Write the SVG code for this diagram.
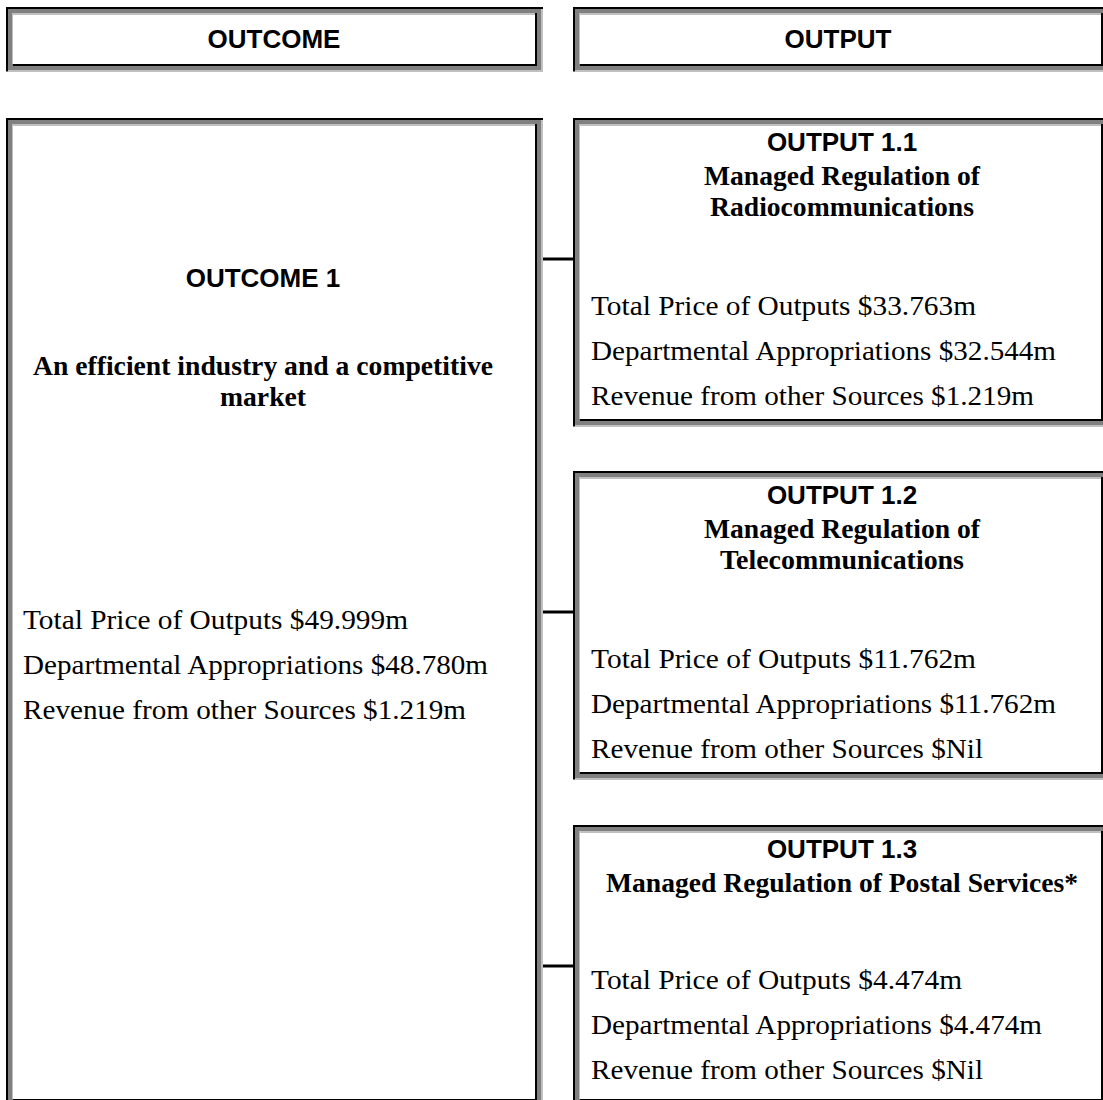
<svg xmlns="http://www.w3.org/2000/svg" width="1103" height="1100" viewBox="0 0 1103 1100">
<style>
.k{fill:#000}.d{fill:#808080}.l{fill:#c0c0c0}.w{fill:#fff}
.h{font-family:"Liberation Sans",Arial,sans-serif;font-weight:bold;font-size:26px;fill:#000;text-anchor:middle}
.t{font-family:"Liberation Serif","Times New Roman",serif;font-weight:bold;font-size:26.5px;fill:#000;text-anchor:middle}
.b{font-family:"Liberation Serif","Times New Roman",serif;font-size:27px;fill:#000}
.c{stroke:#000;stroke-width:3;fill:none}
</style>
<rect width="1103" height="1100" fill="#fff"/>
<g id="header-outcome">
<rect class="d" x="6" y="7" width="537" height="65"/>
<rect class="l" x="541" y="9" width="2" height="63"/>
<rect class="l" x="8" y="70" width="533" height="2"/>
<rect class="l" x="12" y="13" width="523" height="2"/>
<rect class="l" x="12" y="13" width="1" height="51"/>
<rect class="w" x="13" y="15" width="522" height="49"/>
<rect class="k" x="6" y="7" width="537" height="2"/>
<rect class="k" x="6" y="7" width="2" height="64"/>
<rect class="k" x="13" y="64" width="524" height="2"/>
<rect class="k" x="535" y="13" width="2" height="53"/>
<text class="h" x="274" y="48">OUTCOME</text>
</g>
<g id="header-output">
<rect class="d" x="573" y="7" width="536" height="65"/>
<rect class="l" x="575" y="70" width="532" height="2"/>
<rect class="l" x="579" y="13" width="522" height="2"/>
<rect class="l" x="579" y="13" width="1" height="51"/>
<rect class="w" x="580" y="15" width="521" height="49"/>
<rect class="k" x="573" y="7" width="536" height="2"/>
<rect class="k" x="573" y="7" width="2" height="64"/>
<rect class="k" x="580" y="64" width="523" height="2"/>
<rect class="k" x="1101" y="13" width="2" height="53"/>
<text class="h" x="838" y="48">OUTPUT</text>
</g>
<g id="outcome-1">
<rect class="d" x="6" y="118" width="537" height="989"/>
<rect class="l" x="541" y="120" width="2" height="987"/>
<rect class="l" x="12" y="124" width="523" height="2"/>
<rect class="l" x="12" y="124" width="1" height="975"/>
<rect class="w" x="13" y="126" width="522" height="973"/>
<rect class="k" x="6" y="118" width="537" height="2"/>
<rect class="k" x="6" y="118" width="2" height="988"/>
<rect class="k" x="13" y="1099" width="524" height="2"/>
<rect class="k" x="535" y="124" width="2" height="977"/>
<text class="h" x="263" y="287">OUTCOME 1</text>
<text class="t" x="263" y="375" textLength="460" lengthAdjust="spacingAndGlyphs">An efficient industry and a competitive</text>
<text class="t" x="263" y="406" textLength="86" lengthAdjust="spacingAndGlyphs">market</text>
<text class="b" x="23" y="629" textLength="385" lengthAdjust="spacingAndGlyphs">Total Price of Outputs $49.999m</text>
<text class="b" x="23" y="674" textLength="465" lengthAdjust="spacingAndGlyphs">Departmental Appropriations $48.780m</text>
<text class="b" x="23" y="719" textLength="443" lengthAdjust="spacingAndGlyphs">Revenue from other Sources $1.219m</text>
</g>
<g id="output-1-1">
<rect class="d" x="573" y="118" width="536" height="309"/>
<rect class="l" x="575" y="425" width="532" height="2"/>
<rect class="l" x="579" y="124" width="522" height="2"/>
<rect class="l" x="579" y="124" width="1" height="295"/>
<rect class="w" x="580" y="126" width="521" height="293"/>
<rect class="k" x="573" y="118" width="536" height="2"/>
<rect class="k" x="573" y="118" width="2" height="308"/>
<rect class="k" x="580" y="419" width="523" height="2"/>
<rect class="k" x="1101" y="124" width="2" height="297"/>
<text class="h" x="842" y="151">OUTPUT 1.1</text>
<text class="t" x="842" y="185" textLength="276" lengthAdjust="spacingAndGlyphs">Managed Regulation of</text>
<text class="t" x="842" y="216" textLength="264" lengthAdjust="spacingAndGlyphs">Radiocommunications</text>
<text class="b" x="591" y="315" textLength="385" lengthAdjust="spacingAndGlyphs">Total Price of Outputs $33.763m</text>
<text class="b" x="591" y="360" textLength="465" lengthAdjust="spacingAndGlyphs">Departmental Appropriations $32.544m</text>
<text class="b" x="591" y="405" textLength="443" lengthAdjust="spacingAndGlyphs">Revenue from other Sources $1.219m</text>
</g>
<g id="output-1-2">
<rect class="d" x="573" y="471" width="536" height="309"/>
<rect class="l" x="575" y="778" width="532" height="2"/>
<rect class="l" x="579" y="477" width="522" height="2"/>
<rect class="l" x="579" y="477" width="1" height="295"/>
<rect class="w" x="580" y="479" width="521" height="293"/>
<rect class="k" x="573" y="471" width="536" height="2"/>
<rect class="k" x="573" y="471" width="2" height="308"/>
<rect class="k" x="580" y="772" width="523" height="2"/>
<rect class="k" x="1101" y="477" width="2" height="297"/>
<text class="h" x="842" y="504">OUTPUT 1.2</text>
<text class="t" x="842" y="538" textLength="276" lengthAdjust="spacingAndGlyphs">Managed Regulation of</text>
<text class="t" x="842" y="569" textLength="244" lengthAdjust="spacingAndGlyphs">Telecommunications</text>
<text class="b" x="591" y="668" textLength="385" lengthAdjust="spacingAndGlyphs">Total Price of Outputs $11.762m</text>
<text class="b" x="591" y="713" textLength="465" lengthAdjust="spacingAndGlyphs">Departmental Appropriations $11.762m</text>
<text class="b" x="591" y="758" textLength="392" lengthAdjust="spacingAndGlyphs">Revenue from other Sources $Nil</text>
</g>
<g id="output-1-3">
<rect class="d" x="573" y="825" width="536" height="282"/>
<rect class="l" x="575" y="1105" width="532" height="2"/>
<rect class="l" x="579" y="831" width="522" height="2"/>
<rect class="l" x="579" y="831" width="1" height="268"/>
<rect class="w" x="580" y="833" width="521" height="266"/>
<rect class="k" x="573" y="825" width="536" height="2"/>
<rect class="k" x="573" y="825" width="2" height="281"/>
<rect class="k" x="580" y="1099" width="523" height="2"/>
<rect class="k" x="1101" y="831" width="2" height="270"/>
<text class="h" x="842" y="858">OUTPUT 1.3</text>
<text class="t" x="842" y="892" textLength="472" lengthAdjust="spacingAndGlyphs">Managed Regulation of Postal Services*</text>
<text class="b" x="591" y="989" textLength="371" lengthAdjust="spacingAndGlyphs">Total Price of Outputs $4.474m</text>
<text class="b" x="591" y="1034" textLength="451" lengthAdjust="spacingAndGlyphs">Departmental Appropriations $4.474m</text>
<text class="b" x="591" y="1079" textLength="392" lengthAdjust="spacingAndGlyphs">Revenue from other Sources $Nil</text>
</g>
<g id="connectors">
<line class="c" x1="543" y1="259" x2="573" y2="259"/>
<line class="c" x1="543" y1="612" x2="573" y2="612"/>
<line class="c" x1="543" y1="966" x2="573" y2="966"/>
</g>
</svg>
